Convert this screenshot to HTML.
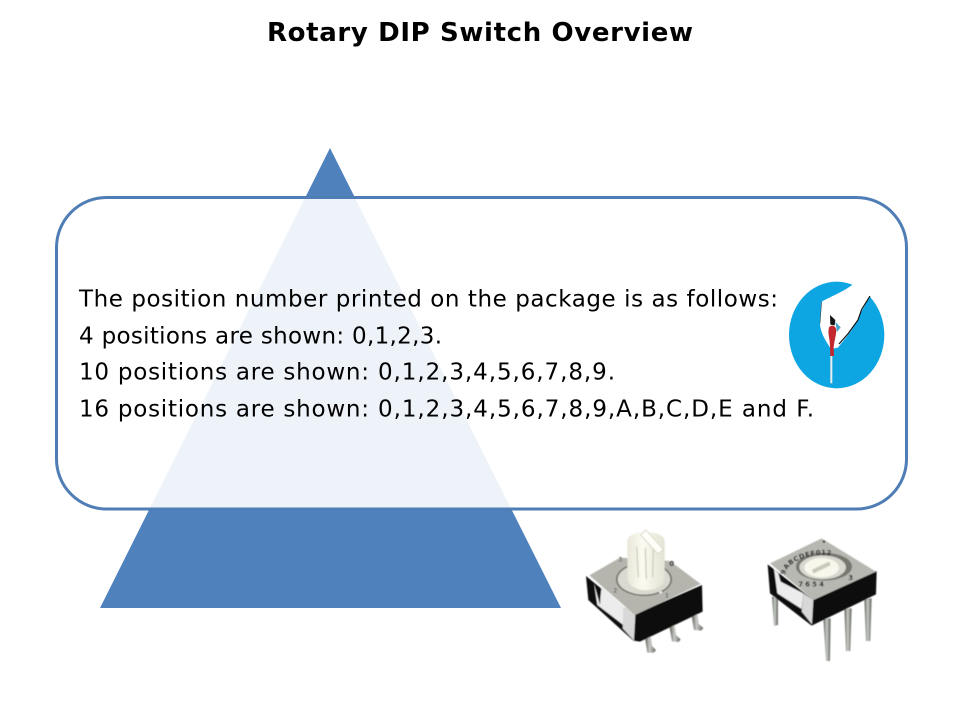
<!DOCTYPE html>
<html><head><meta charset="utf-8"><style>html,body{margin:0;padding:0;background:#fff}svg{display:block}text{font-family:"DejaVu Sans","Liberation Sans",sans-serif}</style></head>
<body>
<svg width="960" height="720" viewBox="0 0 960 720" xmlns="http://www.w3.org/2000/svg">
<defs>
<filter id="b" x="-5%" y="-5%" width="110%" height="110%"><feGaussianBlur stdDeviation="1.2"/></filter>
<linearGradient id="pin" x1="0" x2="1" y1="0" y2="0"><stop offset="0" stop-color="#55584f"/><stop offset="0.45" stop-color="#c9ccc8"/><stop offset="1" stop-color="#5f625c"/></linearGradient>
<linearGradient id="knob" x1="0" x2="1" y1="0" y2="0"><stop offset="0" stop-color="#e8e7d8"/><stop offset="0.4" stop-color="#fbfbf2"/><stop offset="1" stop-color="#e4e3d4"/></linearGradient>
</defs>
<rect width="960" height="720" fill="#fff"/>
<text x="267" y="41" font-size="26" font-weight="bold" fill="#000" textLength="426" lengthAdjust="spacing">Rotary DIP Switch Overview</text>
<polygon points="330,148 561,608 100,608" fill="#4f81bd"/>
<rect x="56.5" y="197.5" width="850" height="311.5" rx="50" ry="50" fill="#fff" fill-opacity="0.9" stroke="#4f7db5" stroke-width="3"/>
<g font-size="23" fill="#000">
<text x="79" y="306.5" textLength="699" lengthAdjust="spacing">The position number printed on the package is as follows:</text>
<text x="79" y="343.5" textLength="363" lengthAdjust="spacing">4 positions are shown: 0,1,2,3.</text>
<text x="79" y="379.5" textLength="290" lengthAdjust="spacing">10 positions are shown:</text>
<text x="378" y="379.5" textLength="237" lengthAdjust="spacing">0,1,2,3,4,5,6,7,8,9.</text>
<text x="79" y="416.5" textLength="290" lengthAdjust="spacing">16 positions are shown:</text>
<text x="378" y="416.5" textLength="436" lengthAdjust="spacing">0,1,2,3,4,5,6,7,8,9,A,B,C,D,E and F.</text>
</g>
<g transform="translate(770,270) scale(0.3333)">
<ellipse cx="200" cy="195" rx="143" ry="160" fill="#0ea5e3"/>
<path d="M252,40 C228,62 185,78 155,95 L150,165 C155,200 175,222 183,238 L205,232 C225,205 258,170 266,140 L300,78 C285,55 268,45 252,40Z" fill="#fff"/>
<path d="M300,78 L275,118 L264,150 L235,190 L207,222" fill="none" stroke="#111" stroke-width="3.5"/>
<path d="M155,95 L150,160" fill="none" stroke="#333" stroke-width="1.5"/>
<path d="M180,135 L196,150 L194,166 L181,164Z" fill="#151515"/>
<path d="M196,155 L212,172 L201,186Z" fill="#46a6cc"/>
<path d="M177,172 C184,163 197,166 199,180 C199,195 194,205 191,232 L192,258 L181,258 L180,232 C180,205 172,190 177,172Z" fill="#c3282f"/>
<rect x="181" y="258" width="6" height="82" fill="#ececec"/>
</g>
<g transform="translate(570,520) scale(0.3333)" filter="url(#b)">
<path d="M224,348 L242,345 L246,378 L258,390 L252,398 L232,398 Z" fill="url(#pin)"/>
<path d="M298,318 L314,315 L318,345 L332,358 L326,366 L306,364 Z" fill="url(#pin)"/>
<path d="M364,282 L382,280 L386,312 L400,324 L394,332 L372,330 Z" fill="url(#pin)"/>
<polygon points="48,168 55,240 190,362 210,365 398,275 396,195 190,285" fill="#0e0e0e"/>
<polygon points="72,190 82,255 160,315 165,262 95,200 92,225 90,255" fill="#ececec"/>
<polygon points="160,262 172,262 196,285 192,362 158,325" fill="#d8d8d8"/>
<polygon points="58,166 150,113 300,123 392,192 195,285" fill="#b5b5ae"/>
<ellipse cx="222" cy="178" rx="84" ry="50" fill="#6f6f68"/>
<ellipse cx="222" cy="178" rx="79" ry="46" fill="#d9d9d0"/>
<path d="M172,62 L172,175 A56,36 0 0 0 284,175 L284,62 A56,26 0 0 0 172,62Z" fill="url(#knob)"/>
<path d="M200,80 L205,172 M226,85 L229,178 M250,85 L248,172" stroke="#cfcebf" stroke-width="4" fill="none"/>
<path d="M212,45 L228,30 L280,88 L264,102Z" fill="#fffef8" stroke="#c9c8b8" stroke-width="2"/>
<circle cx="272" cy="217" r="4" fill="#eee"/>
<text x="145" y="125" font-size="18" fill="#333">3</text>
<text x="298" y="138" font-size="20" font-weight="bold" fill="#111">0</text>
<text x="130" y="217" font-size="18" fill="#333">2</text>
<text x="285" y="233" font-size="18" fill="#333">1</text>
</g>
<g transform="translate(750,525) scale(0.3333)" filter="url(#b)">
<path d="M66,215 L84,215 L84,300 L72,303Z" fill="url(#pin)"/>
<path d="M220,280 L242,280 L240,408 L228,408Z" fill="url(#pin)"/>
<path d="M283,250 L305,250 L301,378 L288,378Z" fill="url(#pin)"/>
<path d="M343,220 L365,220 L361,348 L348,348Z" fill="url(#pin)"/>
<polygon points="53,118 60,205 185,302 378,208 380,138 190,225" fill="#0e0e0e"/>
<polygon points="72,132 82,205 155,252 160,205 92,170 85,145" fill="#ececec"/>
<polygon points="160,205 190,225 186,298 155,260" fill="#d8d8d8"/>
<polygon points="60,115 215,40 378,140 190,225" fill="#b8b8b2"/>
<circle cx="222" cy="50" r="3.5" fill="#111"/>
<ellipse cx="222" cy="125" rx="84" ry="42" fill="#77776f"/>
<ellipse cx="218" cy="127" rx="70" ry="36" fill="#d8d8d0"/>
<ellipse cx="215" cy="128" rx="52" ry="29" fill="#f8f7ec"/>
<path d="M188,140 L240,115" stroke="#c9c8ba" stroke-width="12"/>
<path id="d1" d="M105,150 A118,66 0 0 1 335,135" fill="none"/>
<text font-size="20" fill="#1a1a1a" font-weight="bold" letter-spacing="2"><textPath href="#d1">9ABCDEF012</textPath></text>
<text font-size="20" fill="#1a1a1a" font-weight="bold" x="145" y="185" letter-spacing="7">7654</text>
<text font-size="20" fill="#1a1a1a" font-weight="bold" x="295" y="165">3</text>
</g>
</svg>
</body></html>
